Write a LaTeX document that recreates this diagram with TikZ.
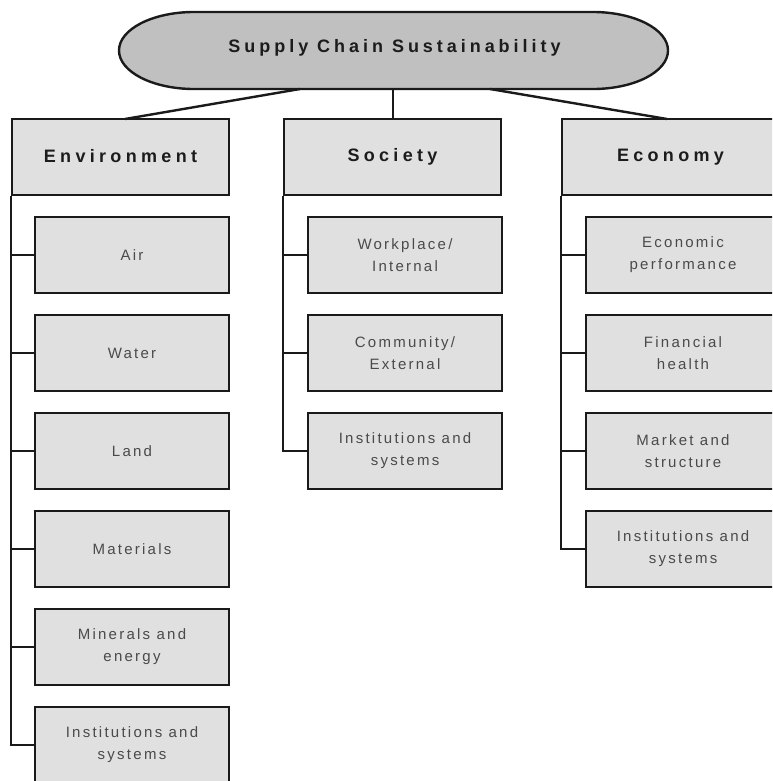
\documentclass[tikz,border=0pt]{standalone}
\usepackage{fontspec}
\setmainfont{Liberation Sans}
\newfontfamily\titlefont{Liberation Sans}[LetterSpace=22]
\newfontfamily\hdrfont{Liberation Sans}[LetterSpace=24]
\newfontfamily\subfont{Liberation Sans}[LetterSpace=15]
\definecolor{ellfill}{HTML}{C0C0C0}
\definecolor{boxfill}{HTML}{E0E0E0}
\definecolor{hdrtext}{HTML}{1C1C1C}
\definecolor{subtext}{HTML}{4A4A4A}
\definecolor{edge}{HTML}{1A1A1A}
\tikzset{
  hdrbox/.style={draw=edge, line width=2.4pt, fill=boxfill, rectangle,
    minimum width=217pt, minimum height=76pt, inner sep=0pt,
    font=\hdrfont\bfseries\fontsize{18}{22}\selectfont, text=hdrtext},
  subbox/.style={draw=edge, line width=2.4pt, fill=boxfill, rectangle,
    minimum width=194pt, minimum height=76pt, inner sep=0pt, align=center,
    font=\subfont\fontsize{15}{22}\selectfont, text=subtext},
  conn/.style={draw=edge, line width=2.4pt},
}
\begin{document}
\begin{tikzpicture}[x=1pt,y=-1pt]
\useasboundingbox (0,0) rectangle (772,781);
\clip (0,0) rectangle (772,781);
\fill[white] (0,0) rectangle (772,781);
% top ellipse
\draw[draw=edge, line width=2.4pt, fill=ellfill]
  (194,12) -- (593,12) arc[start angle=-90, end angle=90, x radius=75, y radius=38.5]
  -- (194,89) arc[start angle=90, end angle=270, x radius=75, y radius=38.5] -- cycle;
\node[font=\titlefont\bfseries\fontsize{18}{22}\selectfont, text=hdrtext, inner sep=0pt] (top) at (394.5,48) {Supply Chain Sustainability};
\coordinate (topL) at (300,89);
\coordinate (topC) at (393,89);
\coordinate (topR) at (490,89);
% headers
\node[hdrbox] (env) at (120.5,157) {\raisebox{2pt}{Environment}};
\node[hdrbox] (soc) at (392.5,157) {\raisebox{2pt}{Society}};
\node[hdrbox] (eco) at (670.5,157) {\raisebox{2pt}{Economy}};
\coordinate (envT) at (125,119);
\coordinate (socT) at (393,119);
\coordinate (ecoT) at (667,119);
\draw[conn] (topL) -- (envT);
\draw[conn] (topC) -- (socT);
\draw[conn] (topR) -- (ecoT);
% environment children
\node[subbox] (e1) at (132,255) {Air};
\node[subbox] (e2) at (132,353) {Water};
\node[subbox] (e3) at (132,451) {Land};
\node[subbox] (e4) at (132,549) {Materials};
\node[subbox] (e5) at (132,647) {Minerals and\\energy};
\node[subbox] (e6) at (132,745) {Institutions and\\systems};
% society children
\node[subbox] (s1) at (405,255) {Workplace/\\Internal};
\node[subbox] (s2) at (405,353) {Community/\\External};
\node[subbox] (s3) at (405,451) {Institutions and\\systems};
% economy children
\node[subbox] (c1) at (683,255) {Economic\\performance};
\node[subbox] (c2) at (683,353) {Financial\\health};
\node[subbox] (c3) at (683,451) {Market and\\structure};
\node[subbox] (c4) at (683,549) {Institutions and\\systems};
% trunks
\draw[conn] (env.south west) |- (e6.west);
\foreach \n in {e1,e2,e3,e4,e5} \draw[conn] (\n.west) -- (\n.west -| env.west);
\draw[conn] (soc.south west) |- (s3.west);
\foreach \n in {s1,s2} \draw[conn] (\n.west) -- (\n.west -| soc.west);
\draw[conn] (eco.south west) |- (c4.west);
\foreach \n in {c1,c2,c3} \draw[conn] (\n.west) -- (\n.west -| eco.west);
\end{tikzpicture}
\end{document}
